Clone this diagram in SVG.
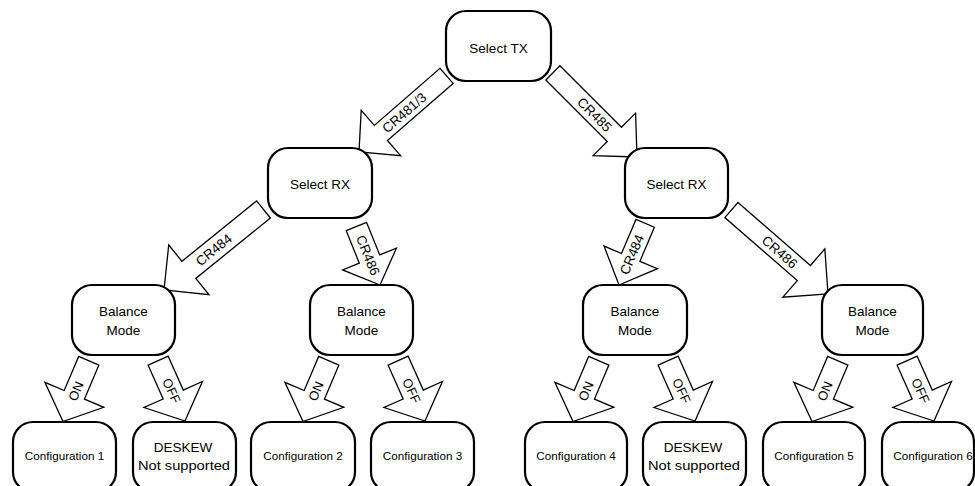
<svg xmlns="http://www.w3.org/2000/svg" width="975" height="486" viewBox="0 0 975 486">
<style>
  .node rect { fill: #fff; stroke: #000; stroke-width: 2.2; }
  .arr { fill: #fff; stroke: #000; stroke-width: 1.3; stroke-linejoin: miter; }
  text { font-family: "Liberation Sans", Arial, sans-serif; fill: #000; }
  .t { font-size: 13.5px; text-anchor: middle; }
  .c { font-size: 11.7px; text-anchor: middle; }
  .lbl { font-size: 13.5px; text-anchor: middle; }
  .sl { font-size: 13px; text-anchor: middle; }
</style>
<defs>
  <path id="sa" class="arr" d="M-66,-11 H-29 V-32 L0,0 L-29,32 V11 H-66 Z"/>
</defs>
<rect width="975" height="486" fill="#fff"/>
<g id="connectors">
  <g id="a1" transform="translate(359,152) rotate(139)">
    <path class="arr" d="M-116,-10 H-29 V-30 L0,0 L-29,30 V10 H-116 Z"/>
    <text class="lbl" transform="translate(-60,0) rotate(180)" dy="0.35em">CR481/3</text>
  </g>
  <g id="a2" transform="translate(637,157) rotate(45)">
    <path class="arr" d="M-119,-10 H-32 V-30 L0,0 L-32,30 V10 H-119 Z"/>
    <text class="lbl" transform="translate(-60,0)" dy="0.35em">CR485</text>
  </g>
  <g id="a3" transform="translate(164,290) rotate(141)">
    <path class="arr" d="M-128,-11 H-32 V-32 L0,0 L-32,32 V11 H-128 Z"/>
    <text class="lbl" transform="translate(-64,0) rotate(180)" dy="0.35em">CR484</text>
  </g>
  <g id="a4" transform="translate(380,285) rotate(68)">
    <path class="arr" d="M-63,-11 H-28 V-29 L0,0 L-28,29 V11 H-63 Z"/>
    <text class="lbl" transform="translate(-32,0)" dy="0.35em">CR486</text>
  </g>
  <g id="a5" transform="translate(619,285) rotate(113)">
    <path class="arr" d="M-67,-10 H-30 V-29 L0,0 L-30,29 V10 H-67 Z"/>
    <text class="lbl" transform="translate(-33,0) rotate(180)" dy="0.35em">CR484</text>
  </g>
  <g id="a6" transform="translate(828,294) rotate(41)">
    <path class="arr" d="M-128,-10 H-32 V-32 L0,0 L-32,32 V10 H-128 Z"/>
    <text class="lbl" transform="translate(-64,0)" dy="0.35em">CR486</text>
  </g>
  <g id="on1" transform="translate(63,421.5) rotate(113)">
    <use href="#sa"/><text class="sl" transform="translate(-33,0) rotate(180)" dy="0.35em">ON</text>
  </g>
  <g id="off1" transform="translate(185,421) rotate(66)">
    <use href="#sa"/><text class="sl" transform="translate(-33,0)" dy="0.35em">OFF</text>
  </g>
  <g id="on2" transform="translate(303,421.5) rotate(113)">
    <use href="#sa"/><text class="sl" transform="translate(-33,0) rotate(180)" dy="0.35em">ON</text>
  </g>
  <g id="off2" transform="translate(425,421) rotate(66)">
    <use href="#sa"/><text class="sl" transform="translate(-33,0)" dy="0.35em">OFF</text>
  </g>
  <g id="on3" transform="translate(573,421.5) rotate(113)">
    <use href="#sa"/><text class="sl" transform="translate(-33,0) rotate(180)" dy="0.35em">ON</text>
  </g>
  <g id="off3" transform="translate(695,421) rotate(66)">
    <use href="#sa"/><text class="sl" transform="translate(-33,0)" dy="0.35em">OFF</text>
  </g>
  <g id="on4" transform="translate(812,421.5) rotate(113)">
    <use href="#sa"/><text class="sl" transform="translate(-33,0) rotate(180)" dy="0.35em">ON</text>
  </g>
  <g id="off4" transform="translate(934,421) rotate(66)">
    <use href="#sa"/><text class="sl" transform="translate(-33,0)" dy="0.35em">OFF</text>
  </g>
</g>
<g id="select-tx" class="node"><rect x="446" y="11" width="105" height="70" rx="20"/><text class="t" x="498.5" y="52.5">Select TX</text></g>
<g id="select-rx-1" class="node"><rect x="268" y="148" width="104" height="70" rx="20"/><text class="t" x="320" y="189">Select RX</text></g>
<g id="select-rx-2" class="node"><rect x="625" y="148" width="103" height="70" rx="20"/><text class="t" x="676.5" y="189">Select RX</text></g>
<g id="balance-1" class="node"><rect x="72" y="285" width="103" height="70" rx="20"/><text class="t" x="123.5" y="315.5">Balance</text><text class="t" x="123.5" y="334.5">Mode</text></g>
<g id="balance-2" class="node"><rect x="310" y="285" width="103" height="70" rx="20"/><text class="t" x="361.5" y="315.5">Balance</text><text class="t" x="361.5" y="334.5">Mode</text></g>
<g id="balance-3" class="node"><rect x="583" y="285" width="104" height="70" rx="20"/><text class="t" x="635" y="315.5">Balance</text><text class="t" x="635" y="334.5">Mode</text></g>
<g id="balance-4" class="node"><rect x="822" y="285" width="101" height="70" rx="20"/><text class="t" x="872.5" y="315.5">Balance</text><text class="t" x="872.5" y="334.5">Mode</text></g>
<g id="config-1" class="node"><rect x="13" y="422" width="103" height="70" rx="20"/><text class="c" x="64.5" y="460">Configuration 1</text></g>
<g id="deskew-1" class="node"><rect x="133" y="422" width="103" height="70" rx="20"/><text class="t" x="183" y="452">DESKEW</text><text class="t" x="184" y="470" textLength="92" lengthAdjust="spacingAndGlyphs">Not supported</text></g>
<g id="config-2" class="node"><rect x="251" y="422" width="104" height="70" rx="20"/><text class="c" x="303" y="460">Configuration 2</text></g>
<g id="config-3" class="node"><rect x="371" y="422" width="103" height="70" rx="20"/><text class="c" x="422.5" y="460">Configuration 3</text></g>
<g id="config-4" class="node"><rect x="525" y="422" width="102" height="70" rx="20"/><text class="c" x="576" y="460">Configuration 4</text></g>
<g id="deskew-2" class="node"><rect x="643" y="422" width="103" height="70" rx="20"/><text class="t" x="693" y="452">DESKEW</text><text class="t" x="694" y="470" textLength="92" lengthAdjust="spacingAndGlyphs">Not supported</text></g>
<g id="config-5" class="node"><rect x="763" y="422" width="102" height="70" rx="20"/><text class="c" x="814" y="460">Configuration 5</text></g>
<g id="config-6" class="node"><rect x="882" y="422" width="92" height="70" rx="20"/><text class="c" x="933" y="460">Configuration 6</text></g>
</svg>
